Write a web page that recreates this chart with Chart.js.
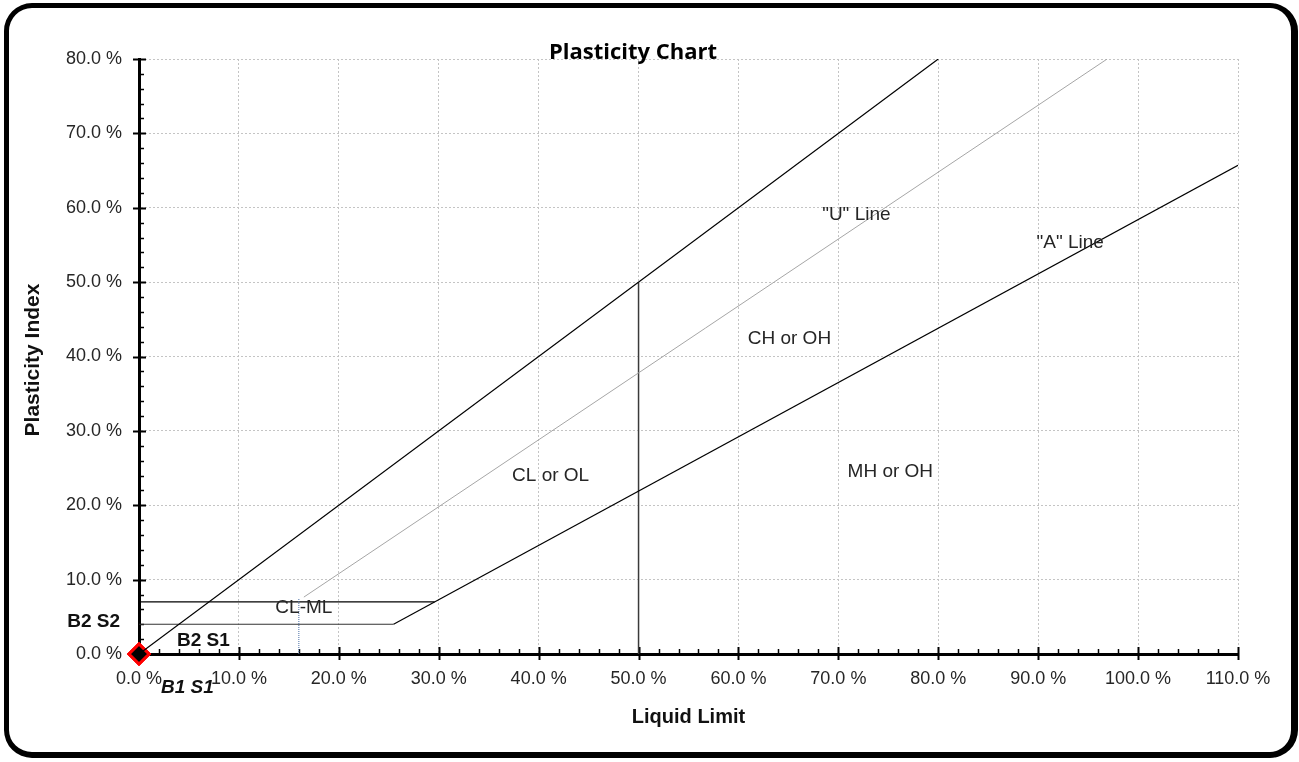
<!DOCTYPE html>
<html>
<head>
<meta charset="utf-8">
<script src="https://cdn.jsdelivr.net/npm/chart.js@4/dist/chart.umd.min.js"></script>
<style>
  html, body { margin: 0; padding: 0; background: #fff; }
  #wrap { position: relative; width: 1299px; height: 762px; overflow: hidden; }
  #c { position: absolute; left: 0; top: 0; }
  #frame {
    position: absolute; left: 4px; top: 3px;
    width: 1282px; height: 744px;
    border-style: solid; border-color: #000;
    border-width: 5px 7px 6px 5px;
    border-radius: 28px;
    pointer-events: none;
  }
</style>
</head>
<body>
<div id="wrap">
  <canvas id="c" width="1299" height="762"></canvas>
  <div id="frame"></div>
</div>
<script>
// ---- Data ----
const xMin = 0, xMax = 110, xStep = 10;
const yMin = 0, yMax = 80, yStep = 10;

// Upper limit line PI = LL
const upperLL = [0, 80];
const upperPI = [0, 80];
// "A" line PI = 0.73 (LL - 20)
const aLineLL = [25.48, 110];
const aLinePI = [4.0, 65.7];
// "U" line PI = 0.9 (LL - 8)
const uLineLL = [16.5, 96.9];
const uLinePI = [7.65, 80];
// U-line vertical foot
const uFootLL = [16, 16];
const uFootPI = [0, 7.5];
// CL-ML band limits
const band4LL = [0, 25.48];
const band4PI = [4, 4];
const band7LL = [0, 29.59];
const band7PI = [7, 7];
// LL = 50 divider
const ll50LL = [50, 50];
const ll50PI = [0, 50];

// Samples
const sampleNames = ['B1 S1', 'B2 S1', 'B2 S2'];
const sampleLL = [0, 0, 0];
const samplePI = [0, 0, 0];

// Zone labels (in data coordinates)
const zoneNames = ['CL or OL', 'CH or OH', 'MH or OH', 'CL-ML', '"U" Line', '"A" Line'];
const zoneLL = [41.2, 65.1, 75.2, 16.5, 71.8, 93.2];
const zonePI = [23.9, 42.4, 24.5, 6.25, 59.0, 55.3];

// ---- Styles ----
const TXT = '#262626';
const FONT = '"Liberation Sans", Arial, sans-serif';
const sampleLabelStyle = {
  'B1 S1': { dx: 22, dy: 34, align: 'left', font: 'italic bold 19px ' + FONT },
  'B2 S1': { dx: 38, dy: -13, align: 'left', font: 'bold 19px ' + FONT },
  'B2 S2': { dx: -19, dy: -32, align: 'right', font: 'bold 19px ' + FONT }
};

function pts(xs, ys) { return xs.map((x, i) => ({ x: x, y: ys[i] })); }
function lineDs(xs, ys, color, width, dash) {
  return {
    data: pts(xs, ys), showLine: true, borderColor: color, borderWidth: width,
    borderDash: dash || [], pointRadius: 0, pointHoverRadius: 0, fill: false, tension: 0
  };
}

const datasets = [
  lineDs(upperLL, upperPI, '#000', 1.2),
  lineDs(uLineLL, uLinePI, '#a6a6a6', 1),
  lineDs(uFootLL, uFootPI, '#4a6fa5', 1, [1, 1]),
  lineDs(aLineLL, aLinePI, '#000', 1.2),
  lineDs(band4LL, band4PI, '#333', 1.2),
  lineDs(band7LL, band7PI, '#000', 1.2),
  lineDs(ll50LL, ll50PI, '#3a3a3a', 1.5),
  {
    data: pts(sampleLL, samplePI), showLine: false, pointStyle: 'rectRot',
    pointRadius: 10, pointBorderWidth: 3, pointBackgroundColor: '#000',
    pointBorderColor: '#ff0000', clip: false
  }
];

const tickPlugin = {
  id: 'customTicks',
  beforeDatasetsDraw(chart) {
    const ctx = chart.ctx, xs = chart.scales.x, ys = chart.scales.y;
    const a = chart.chartArea;
    ctx.save();
    ctx.strokeStyle = '#000';
    for (let v = xMin; v <= xMax + 1e-9; v += 2) {
      const px = Math.round(xs.getPixelForValue(v)) + 0.5;
      const major = Math.abs(v % xStep) < 1e-9;
      ctx.lineWidth = major ? 2 : 1.5;
      ctx.beginPath();
      if (major) { ctx.moveTo(px, a.bottom - 7); ctx.lineTo(px, a.bottom + 6); }
      else { ctx.moveTo(px, a.bottom - 5); ctx.lineTo(px, a.bottom); }
      ctx.stroke();
    }
    for (let v = yMin; v <= yMax + 1e-9; v += 2) {
      const py = Math.round(ys.getPixelForValue(v)) + 0.5;
      const major = Math.abs(v % yStep) < 1e-9;
      ctx.lineWidth = major ? 2 : 1.5;
      ctx.beginPath();
      if (major) { ctx.moveTo(a.left - 6, py); ctx.lineTo(a.left + 7, py); }
      else { ctx.moveTo(a.left, py); ctx.lineTo(a.left + 5, py); }
      ctx.stroke();
    }
    ctx.restore();
  },
  afterDraw(chart) {
    const ctx = chart.ctx, xs = chart.scales.x, ys = chart.scales.y;
    const a = chart.chartArea;
    ctx.save();
    ctx.fillStyle = TXT;
    ctx.textBaseline = 'middle';
    ctx.font = '19px ' + FONT;
    ctx.textAlign = 'center';
    zoneNames.forEach((n, i) => {
      ctx.fillText(n, xs.getPixelForValue(zoneLL[i]), ys.getPixelForValue(zonePI[i]));
    });
    ctx.fillStyle = '#111';
    sampleNames.forEach((n, i) => {
      const st = sampleLabelStyle[n];
      ctx.font = st.font;
      ctx.textAlign = st.align;
      ctx.fillText(n, xs.getPixelForValue(sampleLL[i]) + st.dx, ys.getPixelForValue(samplePI[i]) + st.dy);
    });
    ctx.fillStyle = '#000';
    ctx.font = 'bold 22px "Open Sans", sans-serif';
    ctx.textAlign = 'center';
    ctx.textBaseline = 'alphabetic';
    ctx.fillText('Plasticity Chart', 633, 59);
    ctx.fillStyle = '#111';
    ctx.font = 'bold 20px ' + FONT;
    ctx.textBaseline = 'middle';
    ctx.fillText('Liquid Limit', (a.left + a.right) / 2, 717);
    ctx.save();
    ctx.translate(33, 360);
    ctx.rotate(-Math.PI / 2);
    ctx.font = 'bold 21px ' + FONT;
    ctx.fillText('Plasticity Index', 0, 0);
    ctx.restore();
    ctx.restore();
  }
};

const pctLabel = v => Number(v).toFixed(1) + ' %';

new Chart(document.getElementById('c'), {
  type: 'scatter',
  data: { datasets: datasets },
  options: {
    responsive: false,
    animation: false,
    layout: { padding: { left: 0, top: 59, right: 61, bottom: 0 } },
    plugins: { legend: { display: false }, tooltip: { enabled: false }, title: { display: false } },
    scales: {
      x: {
        type: 'linear', min: xMin, max: xMax,
        afterFit: s => { s.height = 108; },
        ticks: { stepSize: xStep, callback: pctLabel, color: TXT, padding: 14, maxRotation: 0, autoSkip: false,
                 font: { family: FONT, size: 18 } },
        grid: { color: '#c4c4c4', lineWidth: 1, drawTicks: false },
        border: { display: true, color: '#000', width: 3, dash: [2, 2] }
      },
      y: {
        type: 'linear', min: yMin, max: yMax,
        afterFit: s => { s.width = 139; },
        ticks: { stepSize: yStep, callback: pctLabel, color: TXT, padding: 17, autoSkip: false,
                 font: { family: FONT, size: 18 } },
        grid: { color: '#c4c4c4', lineWidth: 1, drawTicks: false },
        border: { display: true, color: '#000', width: 3, dash: [2, 2] }
      }
    }
  },
  plugins: [tickPlugin]
});
</script>
</body>
</html>
